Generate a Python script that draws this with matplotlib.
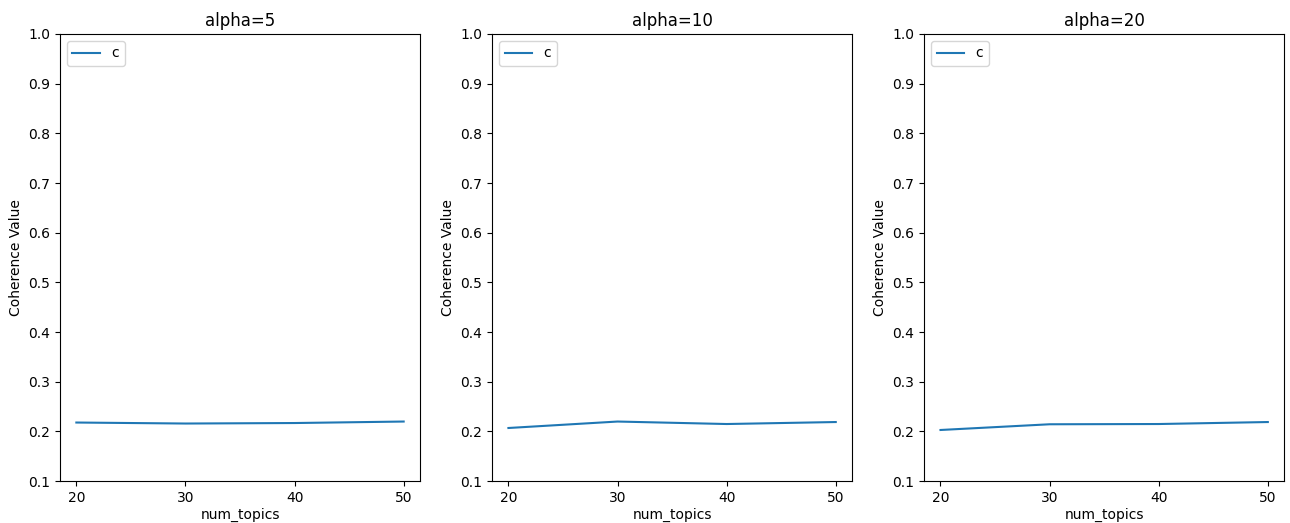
import matplotlib
matplotlib.use('Agg')
import matplotlib.pyplot as plt

num_topics = [20, 30, 40, 50]
alphas = [5, 10, 20]
coherence_a5 = [0.218, 0.216, 0.217, 0.220]
coherence_a10 = [0.207, 0.220, 0.215, 0.219]
coherence_a20 = [0.203, 0.2145, 0.215, 0.219]

fig, axes = plt.subplots(1, 3, figsize=(12.9, 5.23), dpi=100)
fig.subplots_adjust(left=0.0465, right=0.9955, bottom=0.08, top=0.935, wspace=0.2)

for ax, alpha, vals in zip(axes, alphas, [coherence_a5, coherence_a10, coherence_a20]):
    ax.plot(num_topics, vals, label='c')
    ax.set_ylim(0.1, 1.0)
    ax.set_xticks(num_topics)
    ax.set_title(f'alpha={alpha}')
    ax.set_xlabel('num_topics', labelpad=2)
    ax.set_ylabel('Coherence Value')
    ax.legend(loc='upper left')

fig.savefig('out.png', dpi=100)
